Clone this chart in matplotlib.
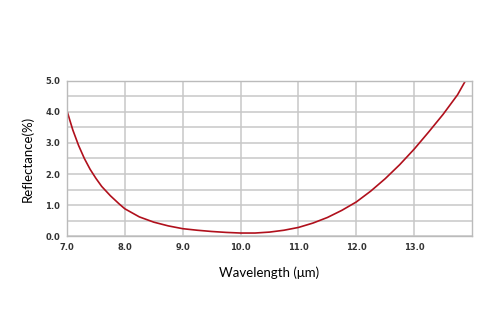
import matplotlib
matplotlib.use("Agg")
import matplotlib.pyplot as plt
import numpy as np

# wavelength (um) and reflectance (%)
wavelength = [7.0, 7.1, 7.2, 7.3, 7.4, 7.5, 7.6, 7.75, 7.9, 8.0, 8.25, 8.5, 8.75,
              9.0, 9.25, 9.5, 9.75, 10.0, 10.25, 10.5, 10.75, 11.0, 11.25, 11.5,
              11.75, 12.0, 12.25, 12.5, 12.75, 13.0, 13.25, 13.5, 13.75, 13.88]
reflectance = [4.03, 3.42, 2.92, 2.5, 2.15, 1.86, 1.6, 1.3, 1.04, 0.88, 0.62, 0.45, 0.33,
               0.24, 0.19, 0.15, 0.12, 0.10, 0.10, 0.13, 0.19, 0.28, 0.42, 0.60,
               0.83, 1.10, 1.45, 1.85, 2.30, 2.80, 3.35, 3.92, 4.55, 4.98]

x_ticks = [7.0, 8.0, 9.0, 10.0, 11.0, 12.0, 13.0]
y_ticks = [0.0, 1.0, 2.0, 3.0, 4.0, 5.0]

fig = plt.figure(figsize=(5, 3.34), dpi=100)
ax = fig.add_axes([0.134, 0.293, 0.81, 0.465])

ax.plot(wavelength, reflectance, color="#b0101c", linewidth=1.2)

ax.set_xlim(7.0, 14.0)
ax.set_ylim(0.0, 5.0)
ax.set_xticks(x_ticks)
ax.set_xticklabels([f"{v:.1f}" for v in x_ticks])
ax.set_yticks(y_ticks)
ax.set_yticklabels([f"{v:.1f}" for v in y_ticks])
ax.set_yticks(np.arange(0.5, 5.0, 1.0), minor=True)

ax.grid(True, which="both", color="#c8c8c8", linewidth=1.1)
ax.set_axisbelow(True)
ax.tick_params(which="both", length=0, labelsize=6, pad=5)
for lbl in ax.get_xticklabels() + ax.get_yticklabels():
    lbl.set_fontweight("bold")
    lbl.set_color("#333333")
for s in ax.spines.values():
    s.set_color("#bbbbbb")
    s.set_linewidth(1.0)

ax.set_xlabel("Wavelength (μm)", fontsize=9.5, family="Lato", labelpad=10)
ax.set_ylabel("Reflectance(%)", fontsize=9.5, family="Lato", labelpad=8)

fig.savefig("out.png", dpi=100)
